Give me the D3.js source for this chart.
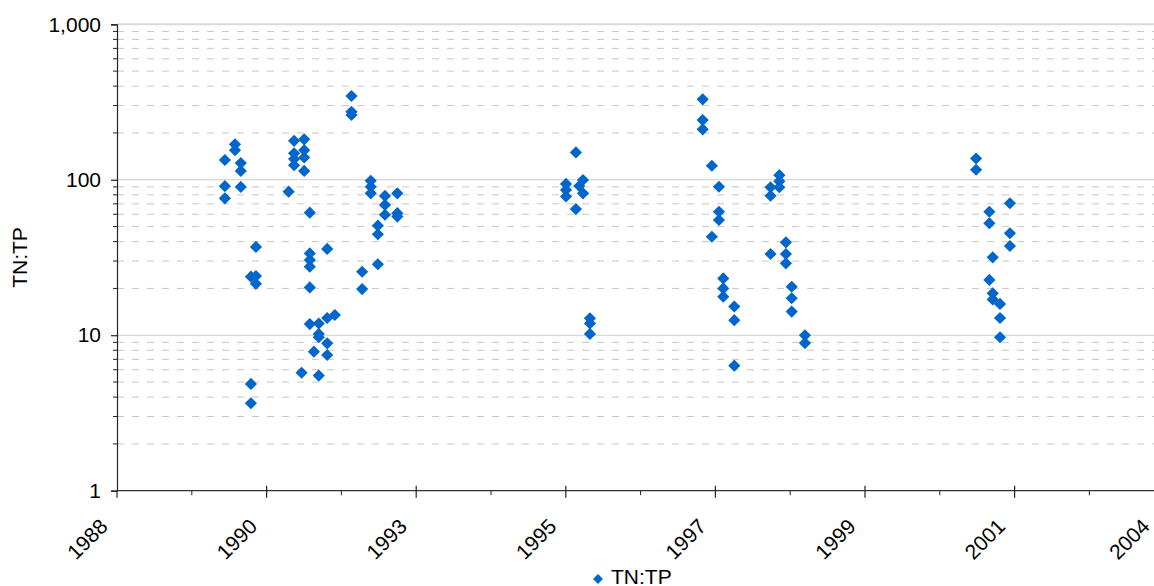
<!DOCTYPE html>
<html>
<head>
<meta charset="utf-8">
<script src="https://cdn.jsdelivr.net/npm/d3@7"></script>
<style>
  html, body { margin: 0; padding: 0; background: #fff; }
  svg { display: block; font-family: "Liberation Sans", Arial, sans-serif; }
</style>
</head>
<body>
<svg id="chart" width="1154" height="586"></svg>
<script>
// Sample dates and TN:TP ratios, one entry per sample.
const sampleDates = [
  "1990-04-14","1990-04-14","1990-04-14",
  "1990-06-07","1990-06-07",
  "1990-07-08","1990-07-08","1990-07-08",
  "1990-08-31","1990-08-31","1990-08-31",
  "1990-09-27","1990-09-27","1990-09-27",
  "1991-03-21",
  "1991-04-19","1991-04-19","1991-04-19","1991-04-19",
  "1991-06-12","1991-06-12","1991-06-12","1991-06-12",
  "1991-05-29",
  "1991-07-12","1991-07-12","1991-07-12","1991-07-12","1991-07-12","1991-07-12",
  "1991-08-03",
  "1991-08-29","1991-08-29","1991-08-29","1991-08-29",
  "1991-10-13","1991-10-13","1991-10-13","1991-10-13",
  "1991-11-23",
  "1992-02-20","1992-02-20","1992-02-20",
  "1992-04-17","1992-04-17",
  "1992-06-02","1992-06-02","1992-06-02",
  "1992-07-10","1992-07-10","1992-07-10",
  "1992-08-17","1992-08-17","1992-08-17",
  "1992-10-22","1992-10-22","1992-10-22",
  "1995-04-12","1995-04-12","1995-04-12",
  "1995-06-04","1995-06-04",
  "1995-06-22",
  "1995-07-12","1995-07-12",
  "1995-08-18","1995-08-18","1995-08-18",
  "1997-04-12","1997-04-12","1997-04-12",
  "1997-05-31","1997-05-31",
  "1997-07-08","1997-07-08","1997-07-08",
  "1997-07-31","1997-07-31","1997-07-31",
  "1997-09-28","1997-09-28","1997-09-28",
  "1998-04-10","1998-04-10","1998-04-10",
  "1998-05-27","1998-05-27","1998-05-27",
  "1998-07-01","1998-07-01","1998-07-01",
  "1998-08-01","1998-08-01","1998-08-01",
  "1998-10-11","1998-10-11",
  "2001-04-13","2001-04-13",
  "2001-06-23","2001-06-23","2001-06-23",
  "2001-07-11","2001-07-11","2001-07-11",
  "2001-08-19","2001-08-19","2001-08-19",
  "2001-10-11","2001-10-11","2001-10-11"
];
const tnTpRatio = [
  134, 91, 76,
  169, 155,
  128, 114, 90,
  23.8, 4.86, 3.65,
  37, 24, 21.4,
  83.8,
  178, 148, 136, 124,
  182, 155, 139, 114,
  5.74,
  61.4, 33.6, 30.5, 27.6, 20.3, 11.8,
  7.84,
  11.9, 10.2, 9.7, 5.5,
  12.9, 8.87, 7.46, 35.9,
  13.5,
  346, 274, 261,
  25.6, 19.8,
  98.6, 90.2, 81.8,
  50.7, 44.6, 28.6,
  78.7, 68.9, 59.6,
  81.8, 61, 58,
  94, 86, 78,
  150, 64.8,
  91.2,
  99.6, 81.8,
  12.85, 11.9, 10.2,
  329, 242, 211,
  123, 43,
  90.2, 62.3, 55.1,
  23.2, 20, 17.7,
  15.3, 12.5, 6.37,
  89.5, 78.9, 33.3,
  107, 98, 89.5,
  39.6, 33.3, 29,
  20.5, 17.3, 14.2,
  10, 8.9,
  137, 116,
  62.3, 52.5, 22.7,
  31.7, 18.6, 17.0,
  15.9, 12.9, 9.7,
  70.6, 45.3, 37.5
];

// Date axis: major ticks every 800 days, labelled by year.
const xMajorTicks = ["1988-09-14","1990-11-23","1993-01-31","1995-04-11",
                     "1997-06-19","1999-08-28","2001-11-05","2004-01-14"];
const xTickLabels = ["1988","1990","1993","1995","1997","1999","2001","2004"];
const yMajorTicks = [1, 10, 100, 1000];
const yMinorSteps = [2, 3, 4, 5, 6, 7, 8, 9];
const seriesName = "TN:TP";

const parse = d3.utcParse("%Y-%m-%d");
const points = sampleDates.map((d, i) => ({ date: parse(d), value: tnTpRatio[i] }));
const majorDates = xMajorTicks.map(parse);
const minorDates = majorDates.slice(0, -1).map(d => d3.utcDay.offset(d, 400));

const width = 1154;
const plotLeft = 117, plotTop = 24.3, plotBottom = 490.7, plotRight = 1164.2;
const svg = d3.select("#chart");

const x = d3.scaleUtc().domain([majorDates[0], majorDates[majorDates.length - 1]]).range([plotLeft, plotRight]);
const y = d3.scaleLog().domain([1, 1000]).range([plotBottom, plotTop]);

const yMinor = [];
yMajorTicks.slice(0, -1).forEach(b => yMinorSteps.forEach(s => yMinor.push(b * s)));

// Gridlines
const grid = svg.append("g");
grid.selectAll("line.minor").data(yMinor).join("line")
  .attr("x1", plotLeft).attr("x2", plotRight)
  .attr("y1", d => y(d)).attr("y2", d => y(d))
  .attr("stroke", "#c6c6c6").attr("stroke-width", 1)
  .attr("stroke-dasharray", "7,8");
grid.selectAll("line.major").data(yMajorTicks.slice(1)).join("line")
  .attr("x1", plotLeft).attr("x2", plotRight)
  .attr("y1", d => y(d)).attr("y2", d => y(d))
  .attr("stroke", d => d === 1000 ? "#dadada" : "#cccccc")
  .attr("stroke-width", d => d === 1000 ? 2 : 1.2);

// Y axis
const yAxis = svg.append("g").attr("transform", `translate(${plotLeft},0)`);
yAxis.call(d3.axisLeft(y).tickValues(yMajorTicks).tickFormat(d3.format(",")).tickSize(6).tickPadding(10))
  .call(g => g.select(".domain").attr("stroke", "#222").attr("stroke-width", 1.2))
  .call(g => g.selectAll(".tick line").attr("stroke", "#222").attr("stroke-width", 1.2))
  .call(g => g.selectAll(".tick text").attr("font-size", 21).attr("fill", "#000")
     .attr("font-family", "Liberation Sans, Arial, sans-serif"));
yAxis.selectAll("line.ym").data(yMinor).join("line")
  .attr("x1", -4).attr("x2", 0)
  .attr("y1", d => y(d)).attr("y2", d => y(d))
  .attr("stroke", "#222").attr("stroke-width", 1);

// X axis
const xAxis = svg.append("g");
xAxis.append("line")
  .attr("x1", plotLeft).attr("x2", plotRight).attr("y1", plotBottom).attr("y2", plotBottom)
  .attr("stroke", "#333").attr("stroke-width", 1.2);
xAxis.selectAll("line.xmaj").data(majorDates).join("line")
  .attr("x1", d => x(d)).attr("x2", d => x(d))
  .attr("y1", (d, i) => i === 0 ? plotBottom : plotBottom - 5).attr("y2", plotBottom + 7)
  .attr("stroke", "#222").attr("stroke-width", 1.2);
xAxis.selectAll("line.xmin").data(minorDates).join("line")
  .attr("x1", d => x(d)).attr("x2", d => x(d))
  .attr("y1", plotBottom).attr("y2", plotBottom + 4.5)
  .attr("stroke", "#222").attr("stroke-width", 1);
// Rotated year labels; the last one is kept inside the drawing area.
xAxis.selectAll("text").data(majorDates).join("text")
  .attr("transform", d => `translate(${Math.min(x(d) - 8, width - 3)},${plotBottom + 37}) rotate(-45)`)
  .attr("text-anchor", "end")
  .attr("font-size", 21).attr("fill", "#000")
  .text((d, i) => xTickLabels[i]);

// Axis title
svg.append("text")
  .attr("transform", `translate(27,${(plotTop + plotBottom) / 2}) rotate(-90)`)
  .attr("text-anchor", "middle")
  .attr("font-size", 21).attr("fill", "#000")
  .text(seriesName);

// Markers
const diamond = d3.symbol().type(d3.symbolSquare).size(74);
const colour = "#0066cc";
svg.append("g").selectAll("path").data(points).join("path")
  .attr("d", diamond)
  .attr("transform", d => `translate(${x(d.date)},${y(d.value)}) rotate(45)`)
  .attr("fill", colour);

// Legend
const legend = svg.append("g").attr("transform", "translate(598,579)");
legend.append("path").attr("d", d3.symbol().type(d3.symbolSquare).size(50)).attr("transform", "rotate(45)").attr("fill", colour);
legend.append("text").attr("x", 13).attr("y", 4.5).attr("font-size", 21).attr("fill", "#000").text(seriesName);
</script>
</body>
</html>
